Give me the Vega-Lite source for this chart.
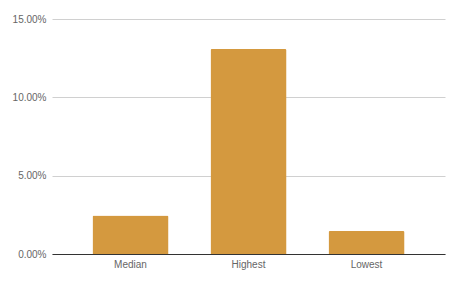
{
  "$schema": "https://vega.github.io/schema/vega-lite/v6.json",
  "width": 393,
  "height": 235,
  "autosize": {"type": "none"},
  "padding": {"left": 52, "top": 19, "right": 15, "bottom": 30},
  "background": "white",
  "data": {"values": [
    {"category": "Median", "value": 0.0245},
    {"category": "Highest", "value": 0.1308},
    {"category": "Lowest", "value": 0.0147}
  ]},
  "mark": {"type": "bar", "color": "#D4993F", "cornerRadiusTopLeft": 1.5, "cornerRadiusTopRight": 1.5},
  "encoding": {
    "x": {
      "field": "category", "type": "nominal", "sort": null,
      "scale": {"paddingInner": 0.356, "paddingOuter": 0.343},
      "axis": {"title": null, "labelAngle": 0, "ticks": false, "domainColor": "#333", "labelColor": "#666", "labelFont": "Liberation Sans", "labelFontSize": 10, "labelPadding": 5, "grid": false}
    },
    "y": {
      "field": "value", "type": "quantitative",
      "scale": {"domain": [0, 0.15], "nice": false},
      "axis": {"title": null, "format": ".2%", "values": [0, 0.05, 0.1, 0.15], "domain": false, "ticks": false, "gridColor": "#d0d0d0", "labelColor": "#666", "labelFont": "Liberation Sans", "labelFontSize": 10, "labelPadding": 6}
    }
  },
  "config": {"view": {"stroke": null}}
}
